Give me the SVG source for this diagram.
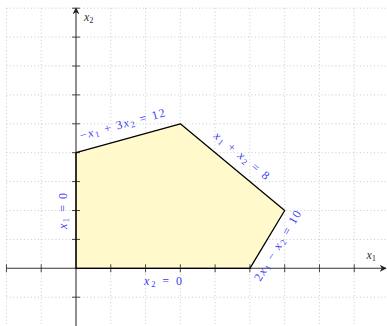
<svg xmlns="http://www.w3.org/2000/svg" width="387" height="326" viewBox="0 0 387 326">
<defs>
<marker id="arr" viewBox="0 0 10 10" refX="9" refY="5" markerWidth="7" markerHeight="7" markerUnits="userSpaceOnUse" orient="auto">
<path d="M0,0 L10,5 L0,10 L3,5 Z" fill="#222"/>
</marker>
</defs>
<style>
.grid line{stroke:#c4c4c4;stroke-width:0.9;stroke-dasharray:1 2.5}
.axis{stroke:#333;stroke-width:1.1;fill:none}
.tick{stroke:#333;stroke-width:0.9}
.lbl{font-family:"Liberation Serif",serif;font-size:12px;fill:#3b3bf5}
.ax{font-family:"Liberation Serif",serif;font-size:12px;fill:#333}
.v{font-style:italic}
.s{font-size:8.5px}
</style>
<g id="grid" class="grid">
<line x1="6.44" y1="8.2" x2="6.44" y2="326"/>
<line x1="41.22" y1="8.2" x2="41.22" y2="326"/>
<line x1="110.78" y1="8.2" x2="110.78" y2="326"/>
<line x1="145.56" y1="8.2" x2="145.56" y2="326"/>
<line x1="180.34" y1="8.2" x2="180.34" y2="326"/>
<line x1="215.12" y1="8.2" x2="215.12" y2="326"/>
<line x1="249.9" y1="8.2" x2="249.9" y2="326"/>
<line x1="284.68" y1="8.2" x2="284.68" y2="326"/>
<line x1="319.46" y1="8.2" x2="319.46" y2="326"/>
<line x1="354.24" y1="8.2" x2="354.24" y2="326"/>
<line x1="6.44" y1="8.2" x2="389" y2="8.2"/>
<line x1="6.44" y1="37.1" x2="389" y2="37.1"/>
<line x1="6.44" y1="66" x2="389" y2="66"/>
<line x1="6.44" y1="94.9" x2="389" y2="94.9"/>
<line x1="6.44" y1="123.8" x2="389" y2="123.8"/>
<line x1="6.44" y1="152.7" x2="389" y2="152.7"/>
<line x1="6.44" y1="181.6" x2="389" y2="181.6"/>
<line x1="6.44" y1="210.5" x2="389" y2="210.5"/>
<line x1="6.44" y1="239.4" x2="389" y2="239.4"/>
<line x1="6.44" y1="297.2" x2="389" y2="297.2"/>
</g>
<g id="region">
<polygon points="76,268.3 249.9,268.3 284.68,210.5 180.34,123.8 76,152.7" fill="#fff9cc" stroke="none"/>
</g>
<g id="axes">
<line class="axis" x1="6.44" y1="268.3" x2="386" y2="268.3" marker-end="url(#arr)"/>
<line class="axis" x1="76" y1="326" x2="76" y2="8" marker-end="url(#arr)"/>
<g class="tick">
<line x1="6.44" y1="264.3" x2="6.44" y2="272.3"/>
<line x1="41.22" y1="264.3" x2="41.22" y2="272.3"/>
<line x1="110.78" y1="264.3" x2="110.78" y2="272.3"/>
<line x1="145.56" y1="264.3" x2="145.56" y2="272.3"/>
<line x1="180.34" y1="264.3" x2="180.34" y2="272.3"/>
<line x1="215.12" y1="264.3" x2="215.12" y2="272.3"/>
<line x1="249.9" y1="264.3" x2="249.9" y2="272.3"/>
<line x1="284.68" y1="264.3" x2="284.68" y2="272.3"/>
<line x1="319.46" y1="264.3" x2="319.46" y2="272.3"/>
<line x1="354.24" y1="264.3" x2="354.24" y2="272.3"/>
<line x1="72" y1="8.2" x2="80" y2="8.2"/>
<line x1="72" y1="37.1" x2="80" y2="37.1"/>
<line x1="72" y1="66" x2="80" y2="66"/>
<line x1="72" y1="94.9" x2="80" y2="94.9"/>
<line x1="72" y1="123.8" x2="80" y2="123.8"/>
<line x1="72" y1="152.7" x2="80" y2="152.7"/>
<line x1="72" y1="181.6" x2="80" y2="181.6"/>
<line x1="72" y1="210.5" x2="80" y2="210.5"/>
<line x1="72" y1="239.4" x2="80" y2="239.4"/>
<line x1="72" y1="297.2" x2="80" y2="297.2"/>
</g>
<text class="ax" x="84" y="20.5"><tspan class="v">x</tspan><tspan class="s" dy="2">2</tspan></text>
<text class="ax" x="366.5" y="259"><tspan class="v">x</tspan><tspan class="s" dy="2">1</tspan></text>
</g>
<g id="connectors">
<polygon points="76,268.3 249.9,268.3 284.68,210.5 180.34,123.8 76,152.7" fill="none" stroke="#000" stroke-width="1.3" stroke-linejoin="round"/>
</g>
<g id="labels">
<text class="lbl" transform="translate(122.5,124.5) rotate(-15.5)" text-anchor="middle" y="3.5" textLength="88" lengthAdjust="spacing">−<tspan class="v">x</tspan><tspan class="s" dy="2">1</tspan><tspan dy="-2"> + 3</tspan><tspan class="v">x</tspan><tspan class="s" dy="2">2</tspan><tspan dy="-2"> = 12</tspan></text>
<text class="lbl" transform="translate(241.5,156) rotate(39.7)" text-anchor="middle" y="3.5" textLength="68" lengthAdjust="spacing"><tspan class="v">x</tspan><tspan class="s" dy="2">1</tspan><tspan dy="-2"> + </tspan><tspan class="v">x</tspan><tspan class="s" dy="2">2</tspan><tspan dy="-2"> = 8</tspan></text>
<text class="lbl" transform="translate(278,246) rotate(-58.9)" text-anchor="middle" y="3.5" textLength="80" lengthAdjust="spacing">2<tspan class="v">x</tspan><tspan class="s" dy="2">1</tspan><tspan dy="-2"> − </tspan><tspan class="v">x</tspan><tspan class="s" dy="2">2</tspan><tspan dy="-2"> = 10</tspan></text>
<text class="lbl" transform="translate(63,211) rotate(-90)" text-anchor="middle" y="3.5" textLength="36" lengthAdjust="spacing"><tspan class="v">x</tspan><tspan class="s" dy="2">1</tspan><tspan dy="-2"> = 0</tspan></text>
<text class="lbl" x="163" y="285" text-anchor="middle" textLength="38" lengthAdjust="spacing"><tspan class="v">x</tspan><tspan class="s" dy="2">2</tspan><tspan dy="-2"> = 0</tspan></text>
</g>
</svg>
